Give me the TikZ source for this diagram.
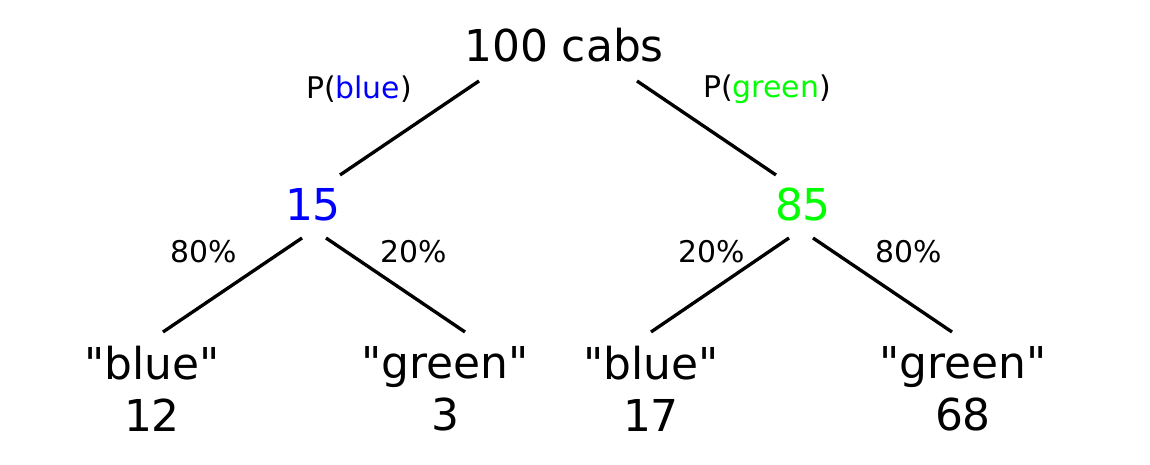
\documentclass[tikz,border=0pt]{standalone}
\usepackage{fontspec}
\newfontfamily\cabfont{DejaVu Sans}
\usepackage{tikz}
\usetikzlibrary{positioning}
\usetikzlibrary{calc}
\definecolor{cabblue}{RGB}{0,0,255}
\definecolor{cabgreen}{RGB}{0,255,0}

\begin{document}
\begin{tikzpicture}
  [
    big/.style={font=\cabfont\fontsize{25}{29.6}\selectfont,inner sep=0pt},
    small/.style={font=\cabfont\fontsize{17}{20}\selectfont,inner sep=0pt},
    leaf/.style={big,align=center},
    branch/.style={line width=1.9pt},
  ]
    \useasboundingbox (0,0) rectangle (23,9.3);
    % root
    \node [big] (root) at (11.28,8.40) {100 cabs};
    % first split
    \node [big,text=cabblue] (n15) at (6.26,5.20) {15};
    \node [big,text=cabgreen] (n85) at (16.06,5.20) {85};
    \node [small] (pblue) at (7.18,7.52) {P(\textcolor{cabblue}{blue})};
    \node [small] (pgreen) at (15.34,7.52) {P(\textcolor{cabgreen}{green})};
    \draw [branch] ([shift={(-1.70,-0.72)}]root.center) -- ([shift={(0.54,0.60)}]n15.center);
    \draw [branch] ([shift={(1.46,-0.72)}]root.center) -- ([shift={(-0.54,0.60)}]n85.center);
    % leaves
    \node [leaf] (bb) at (3.04,1.52) {"blue"\\12};
    \node [leaf] (bg) at (8.90,1.52) {"green"\\3};
    \node [leaf] (gb) at (13.02,1.52) {"blue"\\17};
    \node [leaf] (gg) at (19.26,1.52) {"green"\\68};
    % witness rates
    \node [small] (pbb) at (4.08,4.26) {80\%};
    \node [small] (pbg) at (8.28,4.26) {20\%};
    \node [small] (pgb) at (14.24,4.26) {20\%};
    \node [small] (pgg) at (18.18,4.26) {80\%};
    \draw [branch] ([shift={(-0.22,-0.66)}]n15.center) -- ([shift={(0.22,1.14)}]bb.center);
    \draw [branch] ([shift={(0.26,-0.66)}]n15.center) -- ([shift={(0.40,1.14)}]bg.center);
    \draw [branch] ([shift={(-0.28,-0.66)}]n85.center) -- ([shift={(0,1.14)}]gb.center);
    \draw [branch] ([shift={(0.20,-0.66)}]n85.center) -- ([shift={(-0.22,1.14)}]gg.center);
\end{tikzpicture}
\end{document}
